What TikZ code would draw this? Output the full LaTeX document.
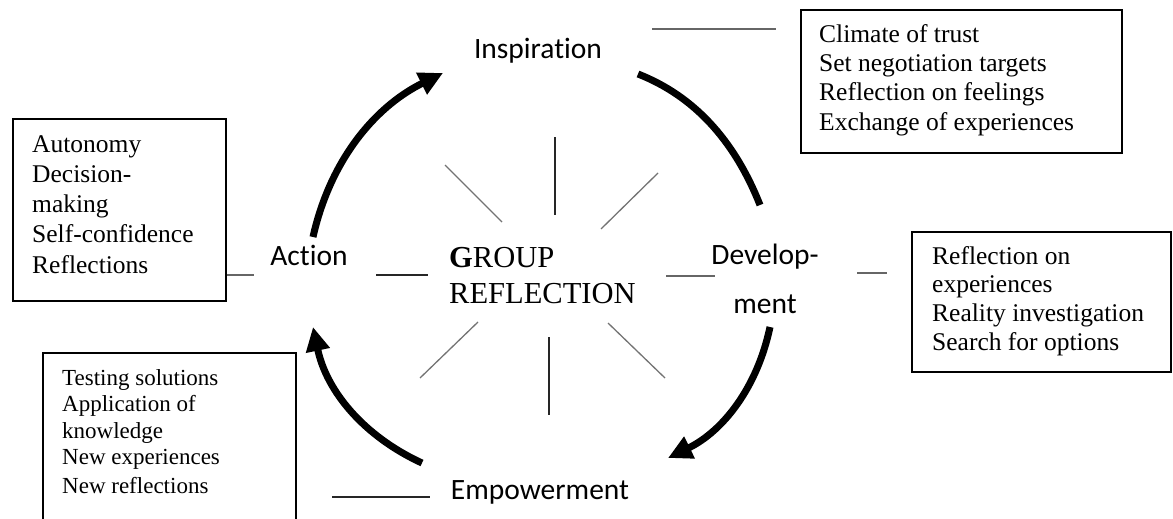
\documentclass[tikz,border=0pt]{standalone}
\usepackage{fontspec}
\setmainfont{Liberation Serif}
\newfontfamily\stagefont[Ligatures=NoCommon,RawFeature={-liga}]{Carlito}
\usetikzlibrary{arrows.meta}

\begin{document}
\begin{tikzpicture}[x=1pt,y=-1pt,
  box/.style={draw=black, line width=1.4pt, rectangle, inner sep=0pt},
  boxtext/.style={anchor=north west, inner sep=0pt, align=left},
  stage/.style={font=\stagefont\fontsize{29.5}{34}\selectfont, inner sep=0pt, anchor=base},
  cycle/.style={line width=7pt, black},
  cyclearrow/.style={cycle, -{Triangle[length=24pt,width=23pt]}},
  spoke/.style={line width=1.3pt, black!55},
  spokedark/.style={line width=1.5pt, black!85},
  link/.style={line width=1.8pt, black!60},
  linkdark/.style={line width=1.8pt, black!85}
]
\useasboundingbox (0,0) rectangle (1173,519);

% ---- boxes with the activities of each stage
\node[box, minimum width=213pt, minimum height=182pt] (box1) at (119.5,210) {};
\node[box, minimum width=253pt, minimum height=192pt] (box2) at (169.5,449) {};
\node[box, minimum width=321pt, minimum height=143pt] (box3) at (961.5,81.5) {};
\node[box, minimum width=259pt, minimum height=140pt] (box4) at (1041.5,302) {};

\node[boxtext, font=\fontsize{25.5}{30.2}\selectfont] (t1) at (32,131)
  {\rule{0pt}{21pt}Autonomy\\Decision-\\making\\Self-confidence\\Reflections};
\node[boxtext, font=\fontsize{23}{26.5}\selectfont] (t2) at (62,365)
  {\rule{0pt}{20pt}Testing solutions\\Application of\\knowledge\\New experiences\\[2pt]New reflections};
\node[boxtext, font=\fontsize{25.5}{29.3}\selectfont] (t3) at (819,21)
  {\rule{0pt}{21pt}Climate of trust\\Set negotiation targets\\Reflection on feelings\\Exchange of experiences};
\node[boxtext, font=\fontsize{25.5}{28.7}\selectfont] (t4) at (932,243)
  {\rule{0pt}{21pt}Reflection on\\experiences\\Reality investigation\\Search for options};

% ---- centre
\node[boxtext, font=\fontsize{30.5}{36}\selectfont] (grp) at (449,243)
  {\rule{0pt}{24pt}\textbf{G}ROUP\\REFLECTION};

% ---- stages of the cycle
\node[stage] (insp) at (538,59) {Inspiration};
\node[stage] (act) at (309,265) {Action};
\node[stage] (emp) at (540,499) {Empowerment};
\node[stage, anchor=north, align=center, font=\stagefont\fontsize{29.5}{49}\selectfont]
  (dev) at (765,242) {\rule{0pt}{22pt}Develop-\\ment};

% ---- short link lines
\coordinate (l1a) at (652,29);  \coordinate (l1b) at (776,29);
\coordinate (l2a) at (254,275);
\coordinate (l3a) at (376,275); \coordinate (l3b) at (428,275);
\coordinate (l4a) at (666,276); \coordinate (l4b) at (715,276);
\coordinate (l5a) at (857,273); \coordinate (l5b) at (887,273);
\coordinate (l6a) at (332,497); \coordinate (l6b) at (430,497);

\draw[link] (l1a) -- (l1b);
\draw[link] (box1.east |- l2a) -- (l2a);
\draw[linkdark] (l3a) -- (l3b);
\draw[link] (l4a) -- (l4b);
\draw[link] (l5a) -- (l5b);
\draw[linkdark] (l6a) -- (l6b);

% ---- rays round the centre
\draw[spokedark] (555,137) -- (555,215);
\draw[spokedark] (549,337) -- (549,415);
\draw[spoke] (445,165) -- (502,222);
\draw[spoke] (658,173) -- (601,229);
\draw[spoke] (478,322) -- (420,378);
\draw[spoke] (608,323) -- (665,378);

% ---- the cycle
\coordinate (a1s) at (313,237); \coordinate (a1e) at (443,73);
\coordinate (a2s) at (638,74);  \coordinate (a2e) at (760,205);
\coordinate (a3s) at (770,327); \coordinate (a3e) at (668,458);
\coordinate (a4s) at (422,463); \coordinate (a4e) at (313,327);

\draw[cyclearrow] (a1s) .. controls (329.7,162.3) and (373,107.7) .. (a1e);
\draw[cycle] (a2s) .. controls (693.3,95.7) and (734,139.3) .. (a2e);
\draw[cyclearrow] (a3s) .. controls (757.3,387.3) and (723.3,431) .. (a3e);
\draw[cyclearrow] (a4s) .. controls (362.7,435.7) and (326.3,390.3) .. (a4e);
\end{tikzpicture}
\end{document}
